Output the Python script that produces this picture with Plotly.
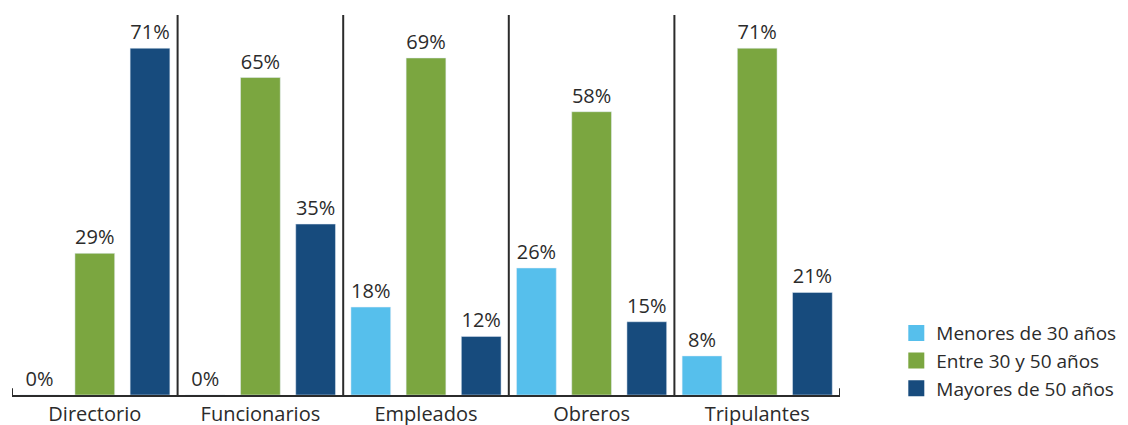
import plotly.graph_objects as go

categories = ["Directorio", "Funcionarios", "Empleados", "Obreros", "Tripulantes"]
menores_30 = [0, 0, 18, 26, 8]
entre_30_50 = [29, 65, 69, 58, 71]
mayores_50 = [71, 35, 12, 15, 21]
series_names = ["Menores de 30 años", "Entre 30 y 50 años", "Mayores de 50 años"]
colors = ["#56BFEC", "#7BA640", "#174B7D"]

FONT = "Open Sans"
TXT = "#2b2b2b"
fig = go.Figure()
for name, vals, col in zip(series_names, [menores_30, entre_30_50, mayores_50], colors):
    fig.add_trace(go.Bar(
        x=categories, y=vals, name=name, marker_color=col, showlegend=False,
        text=[f"{v}%" for v in vals], textposition="outside",
        textfont=dict(family=FONT, size=20, color=TXT),
        cliponaxis=False,
    ))
for name, col in zip(series_names, colors):
    fig.add_trace(go.Scatter(
        x=[None], y=[None], mode="markers", name=name,
        marker=dict(symbol="square", size=17, color=col), showlegend=True,
    ))

shapes = []
for k in range(1, len(categories)):
    shapes.append(dict(type="line", xref="x", yref="paper", x0=k - 0.5, x1=k - 0.5,
                       y0=0, y1=1, line=dict(color=TXT, width=2)))
for xe in [-0.5, len(categories) - 0.5]:
    shapes.append(dict(type="line", xref="x", yref="paper", x0=xe, x1=xe,
                       y0=0, y1=0.018, line=dict(color=TXT, width=2)))

fig.update_layout(
    width=1128, height=425,
    margin=dict(l=4, r=296, t=7, b=38, autoexpand=False),
    paper_bgcolor="white", plot_bgcolor="white",
    barmode="group", bargap=0.0, bargroupgap=0.28,
    showlegend=True,
    legend=dict(x=1.068, y=0.213, xanchor="left", yanchor="top",
                font=dict(family=FONT, size=19, color=TXT),
                itemwidth=30),
    xaxis=dict(range=[-0.5, len(categories) - 0.5], showline=True, linecolor=TXT,
               linewidth=2, ticks="", showgrid=False, automargin=False,
               tickfont=dict(family=FONT, size=20, color=TXT)),
    yaxis=dict(range=[0, 77.8], visible=False, showgrid=False, automargin=False),
    shapes=shapes,
    font=dict(family=FONT),
)
fig.write_html("out.html")
